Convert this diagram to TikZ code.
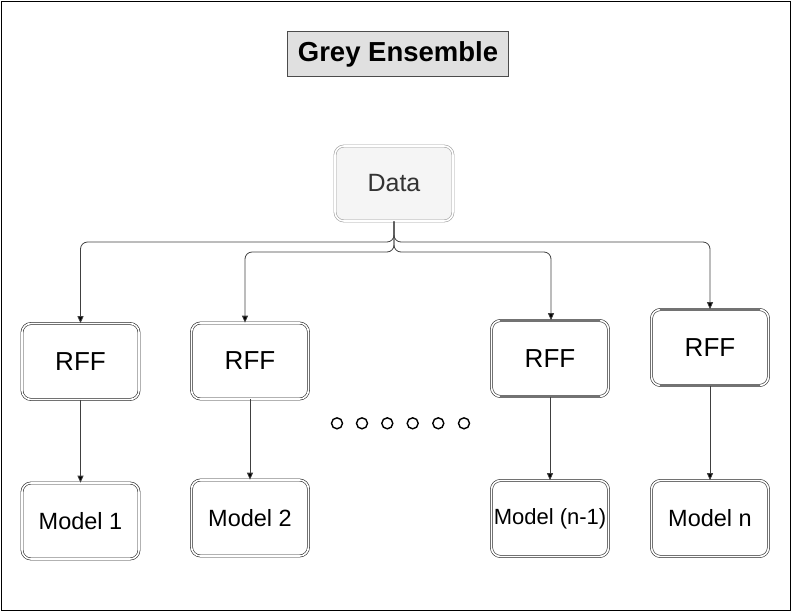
\documentclass[tikz,border=0pt]{standalone}
\usepackage{fontspec}
\setmainfont{Liberation Sans}
\usetikzlibrary{arrows.meta}
\definecolor{titlefill}{HTML}{E0E0E0}
\definecolor{datafill}{HTML}{F5F5F5}
\definecolor{datatext}{HTML}{333333}
\tikzset{
  dbox/.style={draw=black!85, double=white, double distance=1.6pt, line width=0.6pt,
    rounded corners=9pt, minimum width=117pt, minimum height=76pt, inner sep=0pt, fill=white},
  conn/.style={draw=black!75, line width=0.8pt, rounded corners=7pt,
    -{Triangle[length=7pt,width=6pt,fill=black]}},
  dot/.style={draw=black, line width=1.4pt, circle, minimum size=11pt, inner sep=0pt},
  thickedge/.style={draw=black!55, line width=2pt},
  rfftext/.style={font=\fontsize{26}{30}\selectfont},
  modeltext/.style={font=\fontsize{23.5}{28}\selectfont}
}
\begin{document}
\begin{tikzpicture}[x=1pt,y=-1pt]
\useasboundingbox (0,0) rectangle (793,614);
\draw[line width=1pt] (1.5,1.5) rectangle (790.5,610.5);

\node[draw=black!70, fill=titlefill, line width=1pt, minimum width=221pt, minimum height=45pt,
  inner sep=0pt, font=\fontsize{27.5}{32}\selectfont\bfseries] (title) at (398,54) {Grey Ensemble};

\node[dbox, draw=gray!75, fill=datafill, minimum width=118pt, minimum height=75pt,
  text=datatext, font=\fontsize{25}{30}\selectfont] (data) at (394,183.5) {Data};

\node[dbox, rfftext] (r1) at (80.5,361.5) {RFF};
\node[dbox, rfftext] (r2) at (250,361) {RFF};
\node[dbox, rfftext] (r3) at (550,358.5) {RFF};
\node[dbox, rfftext] (r4) at (710,347.5) {RFF};

\draw[thickedge] ([xshift=9pt]r3.north west) -- ([xshift=-9pt]r3.north east);
\draw[thickedge] ([xshift=9pt]r3.south west) -- ([xshift=-9pt]r3.south east);
\draw[thickedge] ([xshift=9pt]r4.north west) -- ([xshift=-9pt]r4.north east);
\draw[thickedge] ([xshift=9pt]r4.south west) -- ([xshift=-9pt]r4.south east);

\node[dbox, modeltext] (m1) at (80.5,521) {Model 1};
\node[dbox, modeltext] (m2) at (250,518) {Model 2};
\node[dbox, font=\fontsize{22}{26}\selectfont] (m3) at (550,518.5) {Model (n-1)};
\node[dbox, modeltext] (m4) at (710,518.5) {Model n};

\coordinate (jo) at (394,242);
\coordinate (ji) at (394,252);
\draw[conn] (data.south) -- (jo) -| (r1.north);
\draw[conn] (data.south) -- (jo) -| (r4.north);
\draw[conn] (data.south) -- (ji) -| ([xshift=-5pt]r2.north);
\draw[conn] (data.south) -- (ji) -| ([xshift=1pt]r3.north);

\draw[conn] (r1.south) -- (r1.south |- m1.north);
\draw[conn] (r2.south) -- (r2.south |- m2.north);
\draw[conn] (r3.south) -- (r3.south |- m3.north);
\draw[conn] (r4.south) -- (r4.south |- m4.north);

\foreach \i/\x in {1/337,2/362,3/387.3,4/412.7,5/438.3,6/464}{
  \node[dot] (c\i) at (\x,423.3) {};
}
\end{tikzpicture}
\end{document}
